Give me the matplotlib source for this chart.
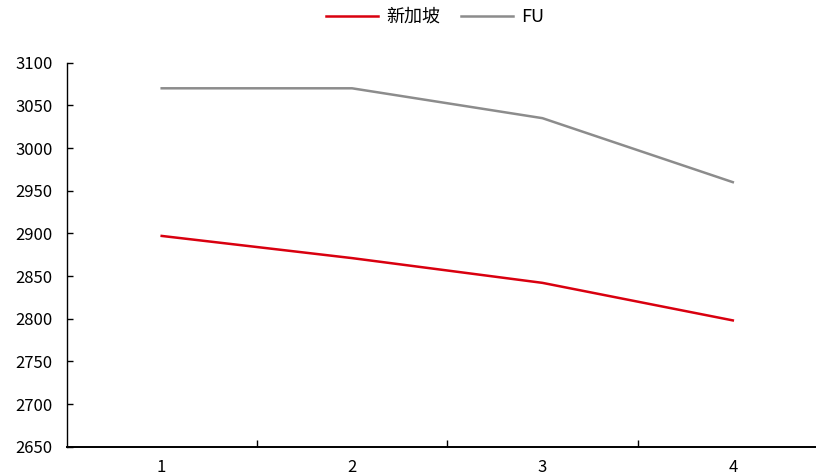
import matplotlib
matplotlib.use("Agg")
import matplotlib.pyplot as plt
from matplotlib.ticker import MultipleLocator, FixedLocator

plt.rcParams['font.family'] = ['Noto Sans CJK SC', 'DejaVu Sans']

categories = [1, 2, 3, 4]
singapore = [2897, 2871, 2842, 2798]
fu = [3070, 3070, 3035, 2960]
series_names = ['新加坡', 'FU']

fig = plt.figure(figsize=(8.16, 4.76), dpi=100)
ax = fig.add_axes([66.5 / 816, 1 - 446.7 / 476, (828 - 66.5) / 816, (446.7 - 62.7) / 476])

ax.plot(categories, singapore, color='#D9000F', lw=1.8, label=series_names[0])
ax.plot(categories, fu, color='#8C8C8C', lw=1.8, label=series_names[1])

ax.set_xlim(0.5, 4.5)
ax.set_ylim(2650, 3100)
ax.yaxis.set_major_locator(MultipleLocator(50))
ax.set_xticks(categories)
ax.xaxis.set_minor_locator(FixedLocator([1.5, 2.5, 3.5]))

for s in ['top', 'right']:
    ax.spines[s].set_visible(False)
ax.spines['left'].set_linewidth(1.0)
ax.spines['bottom'].set_linewidth(1.4)

ax.tick_params(axis='y', direction='in', length=4, width=1, labelsize=12, pad=10)
ax.tick_params(axis='x', which='major', length=0, labelsize=12, pad=9)
ax.tick_params(axis='x', which='minor', direction='in', length=5, width=1)

fig.legend(loc='center', bbox_to_anchor=(0.533, 1 - 17 / 476), ncol=2, frameon=False,
           fontsize=13, handlelength=2.9, handletextpad=0.45, columnspacing=1.15)

fig.savefig('out.png', dpi=100)
